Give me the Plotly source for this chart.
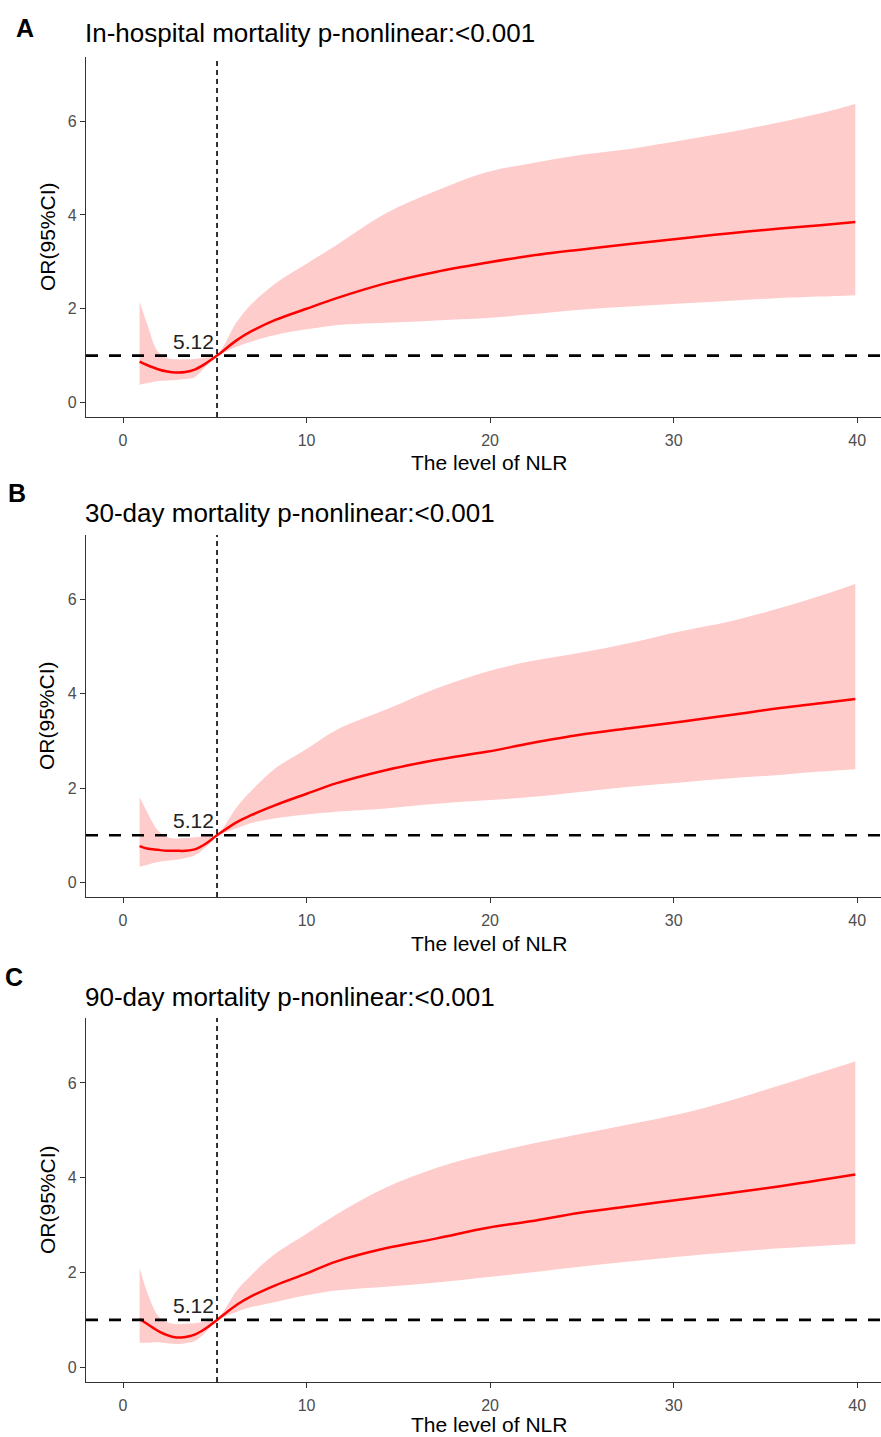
import plotly.graph_objects as go

# ---------------- data ----------------
nlr = [0.9, 1.3, 1.9, 2.4, 2.9, 3.4, 3.9, 4.5, 5.12, 6.2, 7.0, 8.3, 10.0, 11.6,
       14.3, 17.1, 19.8, 22.2, 24.9, 27.6, 30.4, 33.1, 35.8, 38.0, 39.9]

a_est = [0.87, 0.80, 0.71, 0.66, 0.64, 0.65, 0.70, 0.83, 1.00, 1.33, 1.52, 1.76, 2.00, 2.22,
         2.54, 2.79, 2.98, 3.13, 3.26, 3.38, 3.50, 3.61, 3.71, 3.78, 3.85]
a_up = [2.15, 1.69, 1.08, 0.95, 0.92, 0.92, 0.93, 0.96, 1.02, 1.72, 2.10, 2.54, 2.96, 3.35,
        4.03, 4.52, 4.91, 5.10, 5.28, 5.41, 5.59, 5.77, 5.98, 6.17, 6.37]
a_lo = [0.38, 0.41, 0.46, 0.47, 0.48, 0.50, 0.54, 0.76, 0.98, 1.19, 1.30, 1.44, 1.56, 1.65,
        1.70, 1.75, 1.80, 1.88, 1.98, 2.05, 2.11, 2.17, 2.23, 2.26, 2.29]

b_est = [0.77, 0.72, 0.69, 0.67, 0.67, 0.67, 0.70, 0.82, 1.00, 1.28, 1.43, 1.64, 1.88, 2.10,
         2.38, 2.60, 2.77, 2.95, 3.13, 3.27, 3.41, 3.55, 3.70, 3.80, 3.89]
b_up = [1.81, 1.50, 1.10, 0.96, 0.93, 0.94, 0.96, 0.98, 1.02, 1.60, 1.95, 2.42, 2.83, 3.23,
        3.66, 4.12, 4.47, 4.69, 4.87, 5.08, 5.33, 5.54, 5.82, 6.08, 6.33]
b_lo = [0.33, 0.37, 0.43, 0.46, 0.48, 0.52, 0.57, 0.74, 0.98, 1.15, 1.26, 1.36, 1.44, 1.50,
        1.57, 1.67, 1.74, 1.81, 1.92, 2.03, 2.12, 2.21, 2.28, 2.35, 2.40]

c_est = [1.02, 0.92, 0.77, 0.68, 0.63, 0.64, 0.69, 0.82, 1.00, 1.32, 1.50, 1.73, 1.98, 2.23,
         2.51, 2.72, 2.94, 3.08, 3.26, 3.40, 3.54, 3.68, 3.82, 3.95, 4.07]
c_up = [2.10, 1.60, 1.09, 0.95, 0.91, 0.92, 0.93, 0.96, 1.02, 1.62, 1.95, 2.40, 2.82, 3.22,
        3.79, 4.21, 4.50, 4.71, 4.92, 5.13, 5.35, 5.63, 5.95, 6.22, 6.45]
c_lo = [0.52, 0.52, 0.53, 0.51, 0.49, 0.51, 0.55, 0.74, 0.98, 1.17, 1.27, 1.38, 1.52, 1.62,
        1.70, 1.79, 1.90, 2.00, 2.12, 2.23, 2.34, 2.43, 2.51, 2.56, 2.60]

panel_letters = ["A", "B", "C"]
panel_titles = ["In-hospital mortality p-nonlinear:<0.001",
                "30-day mortality p-nonlinear:<0.001",
                "90-day mortality p-nonlinear:<0.001"]
cutoff = 5.12
cutoff_label = "5.12"
x_ticks = [0, 10, 20, 30, 40]
y_ticks = [0, 2, 4, 6]
x_title = "The level of NLR"
y_title = "OR(95%CI)"

# ---------------- layout geometry ----------------
W, H = 881, 1437
FONT = "Liberation Sans, Arial, sans-serif"
# (plot top px, plot bottom px, title y px, letter y px, x-title y px)
panels = [
    (57, 417, 33, 28, 463),
    (535, 897, 513, 493, 943),
    (1018, 1382, 997, 977, 1424),
]
letter_x = [25, 17, 14]
x_left_px = 86

series = [(a_est, a_up, a_lo), (b_est, b_up, b_lo), (c_est, c_up, c_lo)]

fig = go.Figure()
layout = dict(
    width=W, height=H, margin=dict(l=0, r=0, t=0, b=0),
    paper_bgcolor="white", plot_bgcolor="white", showlegend=False,
    font=dict(family=FONT, color="black"),
)
annotations = []
shapes = []

for i, ((top, bot, ty, ly, xty), (est, up, lo)) in enumerate(zip(panels, series)):
    n = "" if i == 0 else str(i + 1)
    xa, ya = "x" + n, "y" + n
    fig.add_trace(go.Scatter(x=nlr, y=lo, mode="lines", line=dict(width=0, shape="spline"),
                             xaxis=xa, yaxis=ya, hoverinfo="skip"))
    fig.add_trace(go.Scatter(x=nlr, y=up, mode="lines", line=dict(width=0, shape="spline"),
                             fill="tonexty", fillcolor="#FFCCCC",
                             xaxis=xa, yaxis=ya, hoverinfo="skip"))
    fig.add_trace(go.Scatter(x=nlr, y=est, mode="lines",
                             line=dict(color="#FF0000", width=2.5, shape="spline"),
                             xaxis=xa, yaxis=ya))
    dom_y = [1 - bot / H, 1 - top / H]
    axis_common = dict(
        showgrid=False, zeroline=False, showline=True, linecolor="#333333", linewidth=1.3,
        ticks="outside", ticklen=5, tickwidth=1.2, tickcolor="#333333",
        tickfont=dict(size=16, color="#4D4D4D", family=FONT),
    )
    layout["xaxis" + n] = dict(axis_common, domain=[x_left_px / W, 1.0], range=[-2.02, 41.3],
                               tickvals=x_ticks, anchor=ya, ticklabelstandoff=4)
    layout["yaxis" + n] = dict(axis_common, domain=dom_y, range=[-0.31, 7.37],
                               tickvals=y_ticks, anchor=xa)
    # reference lines
    shapes.append(dict(type="line", xref=xa + " domain", yref=ya, x0=0, x1=1, y0=1, y1=1,
                       line=dict(color="black", width=2.6, dash="12px,11px")))
    shapes.append(dict(type="line", xref=xa, yref=ya + " domain", x0=cutoff, x1=cutoff, y0=0, y1=1,
                       line=dict(color="black", width=1.6, dash="5px,4px")))
    annotations.append(dict(x=cutoff, y=1, xref=xa, yref=ya, text=cutoff_label, showarrow=False,
                            xanchor="right", yanchor="bottom", xshift=-1, yshift=1,
                            font=dict(size=21, color="#222222")))
    # panel title & letter
    annotations.append(dict(x=83 / W, y=1 - ty / H, xref="paper", yref="paper",
                            text=panel_titles[i], showarrow=False, xanchor="left",
                            yanchor="middle", font=dict(size=26, color="black")))
    annotations.append(dict(x=letter_x[i] / W, y=1 - ly / H, xref="paper", yref="paper",
                            text="<b>" + panel_letters[i] + "</b>", showarrow=False,
                            xanchor="center", yanchor="middle", font=dict(size=25, color="black")))
    # axis titles
    annotations.append(dict(x=489 / W, y=1 - xty / H, xref="paper", yref="paper",
                            text=x_title, showarrow=False, xanchor="center", yanchor="middle",
                            font=dict(size=21, color="black")))
    annotations.append(dict(x=47 / W, y=1 - ((top + bot) / 2) / H, xref="paper", yref="paper",
                            text=y_title, showarrow=False, textangle=-90, xanchor="center",
                            yanchor="middle", font=dict(size=21, color="black")))

layout["annotations"] = annotations
layout["shapes"] = shapes
fig.update_layout(**layout)
fig.write_html("out.html", config={"displayModeBar": False},
               post_script="document.body.style.margin='0';document.body.style.overflow='hidden';")
